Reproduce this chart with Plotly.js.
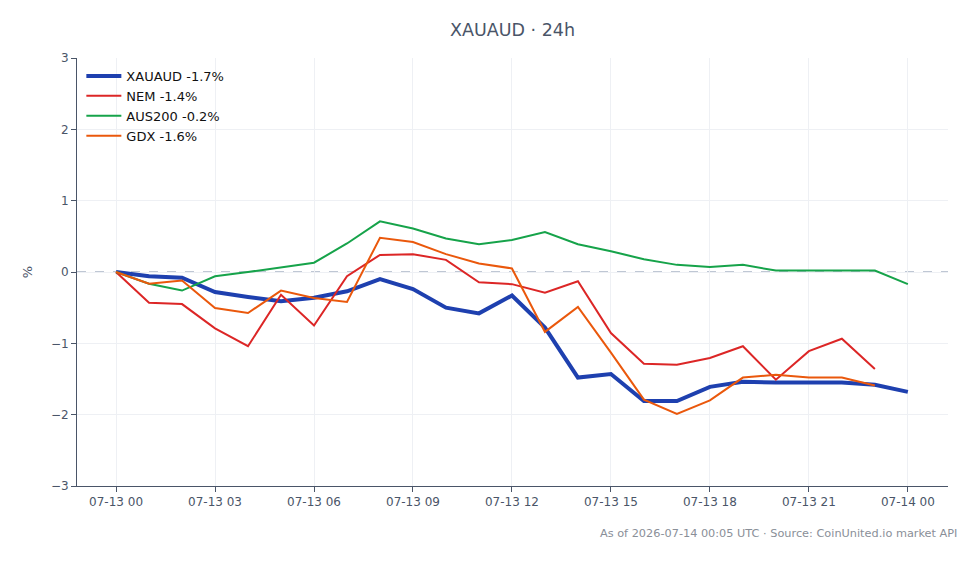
<!DOCTYPE html>
<html>
<head>
<meta charset="utf-8">
<script src="https://cdn.plot.ly/plotly-3.0.1.min.js"></script>
<style>
  html, body { margin: 0; padding: 0; background: #fff; }
  #chart { width: 980px; height: 564px; }
</style>
</head>
<body>
<div id="chart"></div>
<script>
// Hourly timestamps, 24h window (UTC)
const hours = [
  "2026-07-13 00:00", "2026-07-13 01:00", "2026-07-13 02:00", "2026-07-13 03:00",
  "2026-07-13 04:00", "2026-07-13 05:00", "2026-07-13 06:00", "2026-07-13 07:00",
  "2026-07-13 08:00", "2026-07-13 09:00", "2026-07-13 10:00", "2026-07-13 11:00",
  "2026-07-13 12:00", "2026-07-13 13:00", "2026-07-13 14:00", "2026-07-13 15:00",
  "2026-07-13 16:00", "2026-07-13 17:00", "2026-07-13 18:00", "2026-07-13 19:00",
  "2026-07-13 20:00", "2026-07-13 21:00", "2026-07-13 22:00", "2026-07-13 23:00",
  "2026-07-14 00:00"
];

// % change from the first hour
const xauaud = [0, -0.06, -0.08, -0.28, -0.35, -0.41, -0.36, -0.27, -0.10, -0.24, -0.50, -0.58,
  -0.33, -0.78, -1.48, -1.43, -1.81, -1.81, -1.61, -1.54, -1.55, -1.55, -1.55, -1.58, -1.68];
const nem = [0, -0.43, -0.45, -0.79, -1.04, -0.32, -0.75, -0.06, 0.24, 0.25, 0.17, -0.145,
  -0.17, -0.29, -0.13, -0.855, -1.285, -1.30, -1.205, -1.04, -1.51, -1.11, -0.935, -1.36];
const aus200 = [0, -0.165, -0.26, -0.06, 0.0, 0.07, 0.13, 0.40, 0.71, 0.61, 0.47, 0.39,
  0.45, 0.56, 0.39, 0.29, 0.18, 0.10, 0.07, 0.10, 0.02, 0.02, 0.02, 0.02, -0.17];
const gdx = [0, -0.165, -0.12, -0.505, -0.575, -0.26, -0.365, -0.42, 0.48, 0.42, 0.25, 0.12,
  0.05, -0.84, -0.49, -1.13, -1.79, -1.99, -1.80, -1.48, -1.44, -1.48, -1.48, -1.59];

const seriesNames = ["XAUAUD", "NEM", "AUS200", "GDX"];
const seriesValues = [xauaud, nem, aus200, gdx];
const seriesColors = ["#1e40af", "#dc2626", "#16a34a", "#ea580c"];
const seriesWidths = [4, 2, 2, 2];

function label(name, vals) {
  const last = vals[vals.length - 1];
  return name + " " + last.toFixed(1) + "%";
}

const traces = seriesNames.map((name, i) => ({
  type: "scatter",
  mode: "lines",
  name: label(name, seriesValues[i]),
  x: hours.slice(0, seriesValues[i].length),
  y: seriesValues[i],
  line: { color: seriesColors[i], width: seriesWidths[i] },
  hoverinfo: "skip"
}));

const axisColor = "#4a5568";

const layout = {
  width: 980,
  height: 564,
  margin: { l: 77, r: 32, t: 58, b: 78 },
  paper_bgcolor: "#ffffff",
  plot_bgcolor: "#ffffff",
  font: { family: "DejaVu Sans, sans-serif", size: 12, color: axisColor },
  title: {
    text: "XAUAUD · 24h",
    x: 0.5,
    xref: "paper",
    xanchor: "center",
    y: 0.947,
    yref: "container",
    yanchor: "middle",
    font: { family: "DejaVu Sans, sans-serif", size: 17.5, color: "#4a5568" }
  },
  showlegend: true,
  legend: {
    x: 0.005,
    y: 0.993,
    xanchor: "left",
    yanchor: "top",
    itemwidth: 35,
    bgcolor: "rgba(255,255,255,0)",
    font: { family: "DejaVu Sans, sans-serif", size: 13, color: "#111" },
    tracegroupgap: 0
  },
  xaxis: {
    type: "date",
    range: ["2026-07-12 22:49", "2026-07-14 01:13"],
    dtick: 3 * 3600 * 1000,
    tick0: "2026-07-13 00:00",
    tickformat: "%m-%d %H",
    showgrid: true,
    gridcolor: "#eef0f4",
    showline: true,
    linecolor: axisColor,
    linewidth: 1,
    ticks: "outside",
    ticklen: 5,
    tickcolor: axisColor,
    zeroline: false,
    tickfont: { size: 12, color: axisColor }
  },
  yaxis: {
    range: [-3, 3],
    dtick: 1,
    showgrid: true,
    gridcolor: "#eef0f4",
    showline: true,
    linecolor: axisColor,
    linewidth: 1,
    ticks: "outside",
    ticklen: 5,
    tickcolor: axisColor,
    zeroline: false,
    title: { text: "%", font: { size: 13, color: axisColor }, standoff: 15 },
    tickfont: { size: 12, color: axisColor }
  },
  shapes: [{
    type: "line",
    xref: "paper", x0: 0, x1: 1,
    yref: "y", y0: 0, y1: 0,
    line: { color: "#7f8fa8", width: 1, dash: "dash" },
    layer: "below"
  }],
  annotations: [{
    text: "As of 2026-07-14 00:05 UTC · Source: CoinUnited.io market API",
    xref: "paper", yref: "paper",
    x: 1.013, y: -0.11,
    xanchor: "right", yanchor: "middle",
    showarrow: false,
    font: { family: "DejaVu Sans, sans-serif", size: 11.3, color: "#8a8f98" }
  }]
};

Plotly.newPlot("chart", traces, layout, { displayModeBar: false, staticPlot: true });
</script>
</body>
</html>
